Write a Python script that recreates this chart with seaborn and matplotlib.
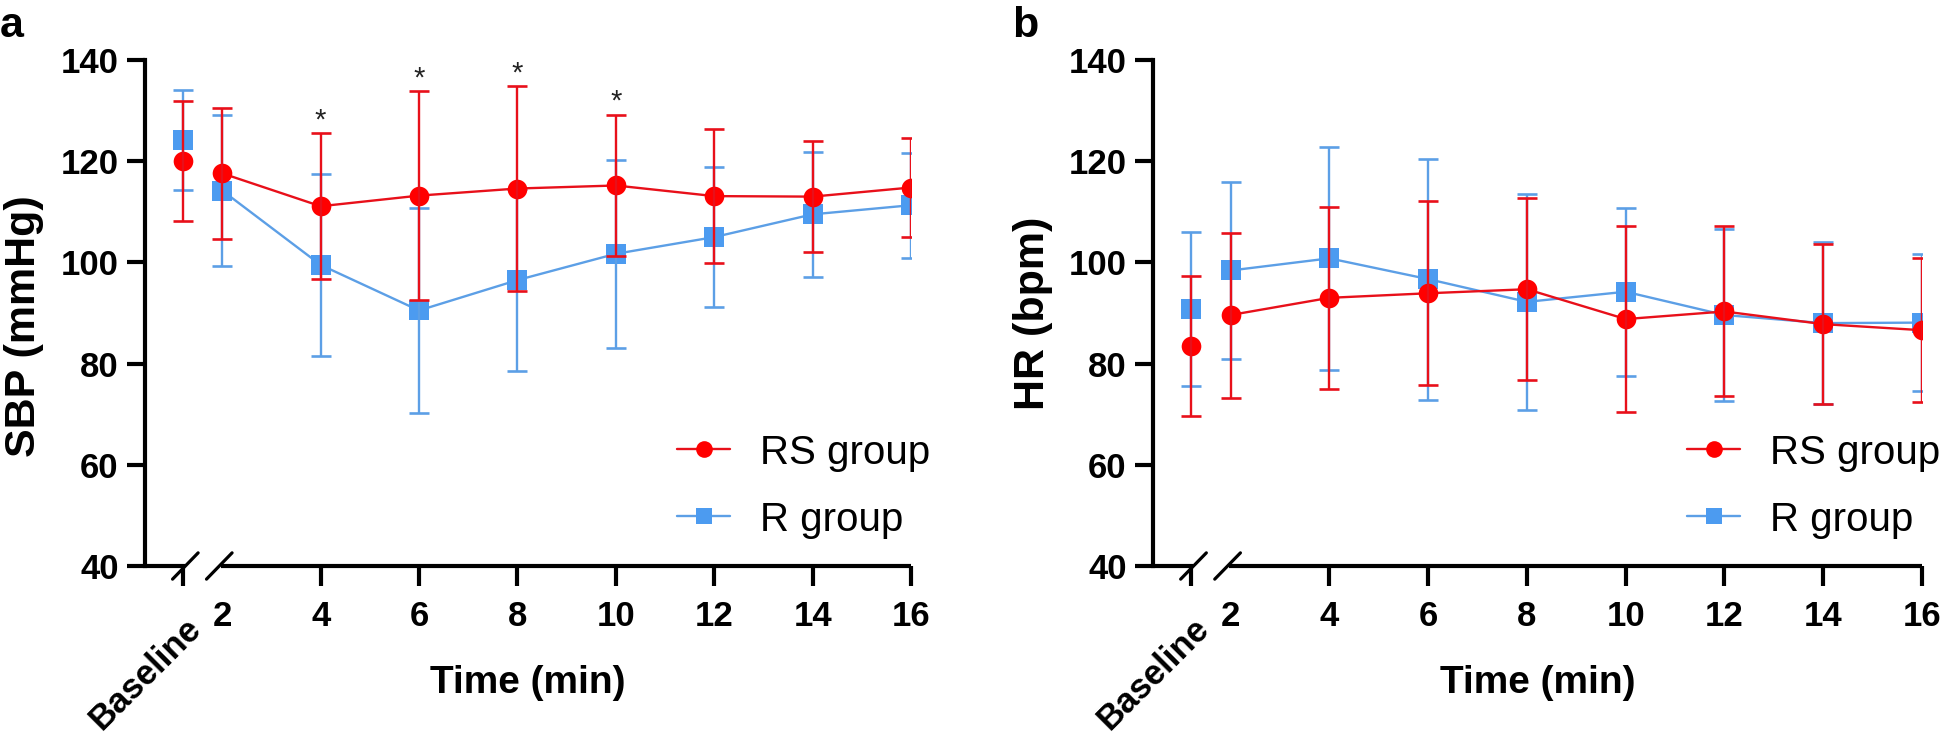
import numpy as np
import pandas as pd
import matplotlib
matplotlib.use("Agg")
import matplotlib.pyplot as plt
import matplotlib.transforms as mtransforms
from matplotlib.lines import Line2D
import seaborn as sns

# ---------------- data ----------------
time_labels = ["Baseline", "2", "4", "6", "8", "10", "12", "14", "16"]

sbp_rs_mean = [120.0, 117.6, 111.1, 113.2, 114.6, 115.2, 113.1, 113.0, 114.8]
sbp_rs_sd = [11.8, 13.0, 14.4, 20.6, 20.2, 14.0, 13.3, 11.0, 9.7]
sbp_r_mean = [124.2, 114.2, 99.5, 90.5, 96.5, 101.7, 105.0, 109.5, 111.3]
sbp_r_sd = [9.8, 15.0, 18.0, 20.3, 18.0, 18.6, 13.8, 12.3, 10.4]
sbp_sig = [False, False, True, True, True, True, False, False, False]

hr_rs_mean = [83.5, 89.6, 93.0, 93.9, 94.7, 88.8, 90.3, 87.8, 86.6]
hr_rs_sd = [13.8, 16.3, 18.0, 18.2, 18.0, 18.3, 16.8, 15.8, 14.2]
hr_r_mean = [90.8, 98.4, 100.8, 96.7, 92.2, 94.2, 89.6, 88.0, 88.1]
hr_r_sd = [15.3, 17.5, 22.0, 23.8, 21.4, 16.6, 17.0, 16.0, 13.5]
hr_sig = [False] * 9

groups = ["RS group", "R group"]

# ---------------- style ----------------
sns.set_theme(style="ticks")
plt.rcParams["font.family"] = ["Liberation Sans", "DejaVu Sans"]
plt.rcParams["text.color"] = "black"
plt.rcParams["axes.labelcolor"] = "black"
plt.rcParams["xtick.color"] = "black"
plt.rcParams["ytick.color"] = "black"

RED = "#FF0000"
RED_LINE = "#E8101A"
BLUE = "#4C9BF0"
BLUE_LINE = "#5C9FE6"
BASE_POS = 1.2
XMIN = 0.43
XMAX = 16.0

fig = plt.figure(figsize=(19.44, 7.39), dpi=100)
ax_a = fig.add_axes([145 / 1944, 1 - 566 / 739, 766 / 1944, 506 / 739])
ax_b = fig.add_axes([1153 / 1944, 1 - 566 / 739, 769 / 1944, 506 / 739])


def draw_panel(ax, rs_m, rs_sd, r_m, r_sd, sig, ylabel, ylab_x, ylab_y):
    pos = np.array([BASE_POS] + [float(t) for t in time_labels[1:]])
    df = pd.DataFrame({
        "pos": np.concatenate([pos, pos]),
        "mean": np.concatenate([rs_m, r_m]),
        "sd": np.concatenate([rs_sd, r_sd]),
        "group": ["RS group"] * len(pos) + ["R group"] * len(pos),
        "label": time_labels * 2,
    })
    specs = [
        ("R group", BLUE, BLUE_LINE, "s", 2),
        ("RS group", RED, RED_LINE, "o", 4),
    ]
    for g, mcol, lcol, mk, z in specs:
        d = df[df["group"] == g]
        post = d[d["label"] != "Baseline"]
        ax.errorbar(d["pos"], d["mean"], yerr=d["sd"], fmt="none", ecolor=lcol,
                    elinewidth=1.7, capsize=7.5, capthick=1.9, zorder=z + 0.5)
        sns.lineplot(data=post, x="pos", y="mean", color=lcol, linewidth=1.7,
                     sort=False, ax=ax, zorder=z, legend=False)
        sns.scatterplot(data=d, x="pos", y="mean", marker=mk, s=200 if mk == "o" else 190,
                        color=mcol, linewidth=0, ax=ax, zorder=z + 0.3, legend=False)
    # significance marks
    rs = df[df["group"] == "RS group"].reset_index(drop=True)
    for i, s in enumerate(sig):
        if s:
            ax.text(rs.loc[i, "pos"], rs.loc[i, "mean"] + rs.loc[i, "sd"] - 0.2, "*",
                    ha="center", va="bottom", fontsize=21, color="#222222")

    ax.set_xlim(XMIN, XMAX)
    ax.set_ylim(40, 140)
    ax.set_yticks(np.arange(40, 141, 20))
    ax.set_xticks(pos)
    ax.set_xticklabels([""] + time_labels[1:])
    for sp in ["top", "right", "bottom"]:
        ax.spines[sp].set_visible(False)
    ax.spines["left"].set_linewidth(3)
    ax.spines["left"].set_color("black")
    ax.tick_params(axis="both", which="both", direction="out", width=3, color="black",
                   labelcolor="black")
    ax.tick_params(axis="y", length=13, pad=6, labelsize=25)
    ax.tick_params(axis="x", length=14.5, pad=10, labelsize=25)
    for lab in ax.get_yticklabels() + ax.get_xticklabels():
        lab.set_fontweight("bold")
    ax.xaxis.get_major_ticks()[1].tick1line.set_visible(False)

    # rotated baseline label
    off = mtransforms.ScaledTranslation(1 / 100, -45 / 100, fig.dpi_scale_trans)
    ax.text(BASE_POS, 0, time_labels[0], transform=ax.get_xaxis_transform() + off,
            rotation=45, rotation_mode="anchor", ha="right", va="top",
            fontsize=25, fontweight="bold", color="black")

    # broken x axis line
    tr = ax.get_xaxis_transform()
    ax.add_line(Line2D([XMIN, 1.25], [0, 0], transform=tr, color="black", lw=3,
                       clip_on=False, solid_capstyle="butt"))
    ax.add_line(Line2D([1.97, XMAX], [0, 0], transform=tr, color="black", lw=3,
                       clip_on=False, solid_capstyle="butt"))
    for cx in (1.25, 1.94):
        ax.add_line(Line2D([cx - 0.26, cx + 0.26], [-0.026, 0.026], transform=tr,
                           color="black", lw=2.3, clip_on=False))

    ax.set_ylabel(ylabel, fontsize=31, fontweight="bold")
    ax.yaxis.set_label_coords(ylab_x, ylab_y)
    ax.set_xlabel("Time (min)", fontsize=28, fontweight="bold")
    ax.xaxis.set_label_coords(0.5, -0.196)

    handles = [
        Line2D([], [], color=RED_LINE, lw=1.7, marker="o", markersize=12,
               markerfacecolor=RED, markeredgewidth=0),
        Line2D([], [], color=BLUE_LINE, lw=1.7, marker="s", markersize=11,
               markerfacecolor=BLUE, markeredgewidth=0),
    ]
    ax.legend(handles, groups, loc="center left", bbox_to_anchor=(0.695, 0.158),
              frameon=False, fontsize=29, handlelength=1.3, handletextpad=0.75,
              labelspacing=0.72, borderpad=0, borderaxespad=0)


draw_panel(ax_a, sbp_rs_mean, sbp_rs_sd, sbp_r_mean, sbp_r_sd, sbp_sig,
           "SBP (mmHg)", -0.132, 0.474)
draw_panel(ax_b, hr_rs_mean, hr_rs_sd, hr_r_mean, hr_r_sd, hr_sig,
           "HR (bpm)", -0.130, 0.50)

fig.text(0.0, 1 - 37 / 739, "a", fontsize=31, fontweight="bold", va="baseline", ha="left")
fig.text(1012 / 1944, 1 - 37 / 739, "b", fontsize=31, fontweight="bold", va="baseline", ha="left")

fig.savefig("out.png", dpi=100, facecolor="white")
